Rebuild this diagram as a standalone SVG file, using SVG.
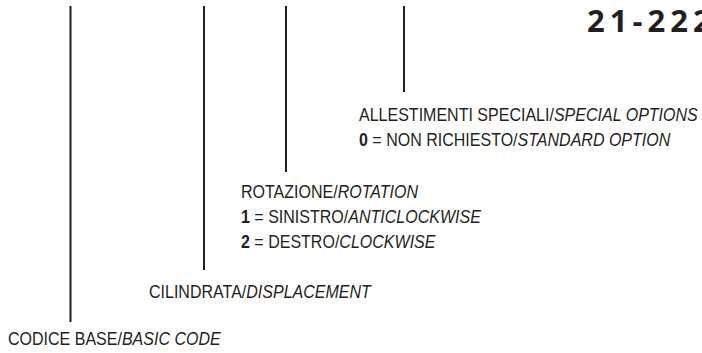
<svg xmlns="http://www.w3.org/2000/svg" width="702" height="353" viewBox="0 0 702 353">
<style>
.t{font-family:"Liberation Sans",Arial,sans-serif;font-size:18.5px;fill:#231f20}
.i{font-style:italic}
.b{font-weight:bold}
.ln{stroke:#231f20;stroke-width:2;fill:none}
.title{font-family:"Open Sans","DejaVu Sans",sans-serif;font-weight:bold;font-size:31px;fill:#231f20;letter-spacing:5px}
</style>
<rect width="702" height="353" fill="#fff"/>
<g id="connectors">
<line class="ln" x1="70.5" y1="6" x2="70.5" y2="322"/>
<line class="ln" x1="204" y1="6" x2="204" y2="270"/>
<line class="ln" x1="286" y1="6" x2="286" y2="172"/>
<line class="ln" x1="404" y1="6" x2="404" y2="92"/>
</g>
<g id="title"><text class="title" x="587" y="32">21-222</text></g>
<g id="node-basic" transform="translate(8,345) scale(0.866,1)">
<text class="t" x="0" y="0">CODICE BASE/<tspan class="i">BASIC CODE</tspan></text>
</g>
<g id="node-displacement" transform="translate(149,298) scale(0.866,1)">
<text class="t" x="0" y="0">CILINDRATA/<tspan class="i">DISPLACEMENT</tspan></text>
</g>
<g id="node-rotation" transform="translate(241,198) scale(0.866,1)">
<text class="t" x="0" y="0">ROTAZIONE/<tspan class="i">ROTATION</tspan></text>
<text class="t" x="0" y="25"><tspan class="b">1</tspan> = SINISTRO/<tspan class="i">ANTICLOCKWISE</tspan></text>
<text class="t" x="0" y="50"><tspan class="b">2</tspan> = DESTRO/<tspan class="i">CLOCKWISE</tspan></text>
</g>
<g id="node-options" transform="translate(359,121) scale(0.866,1)">
<text class="t" x="0" y="0">ALLESTIMENTI SPECIALI/<tspan class="i">SPECIAL OPTIONS</tspan></text>
<text class="t" x="0" y="25"><tspan class="b">0</tspan> = NON RICHIESTO/<tspan class="i">STANDARD OPTION</tspan></text>
</g>
</svg>
